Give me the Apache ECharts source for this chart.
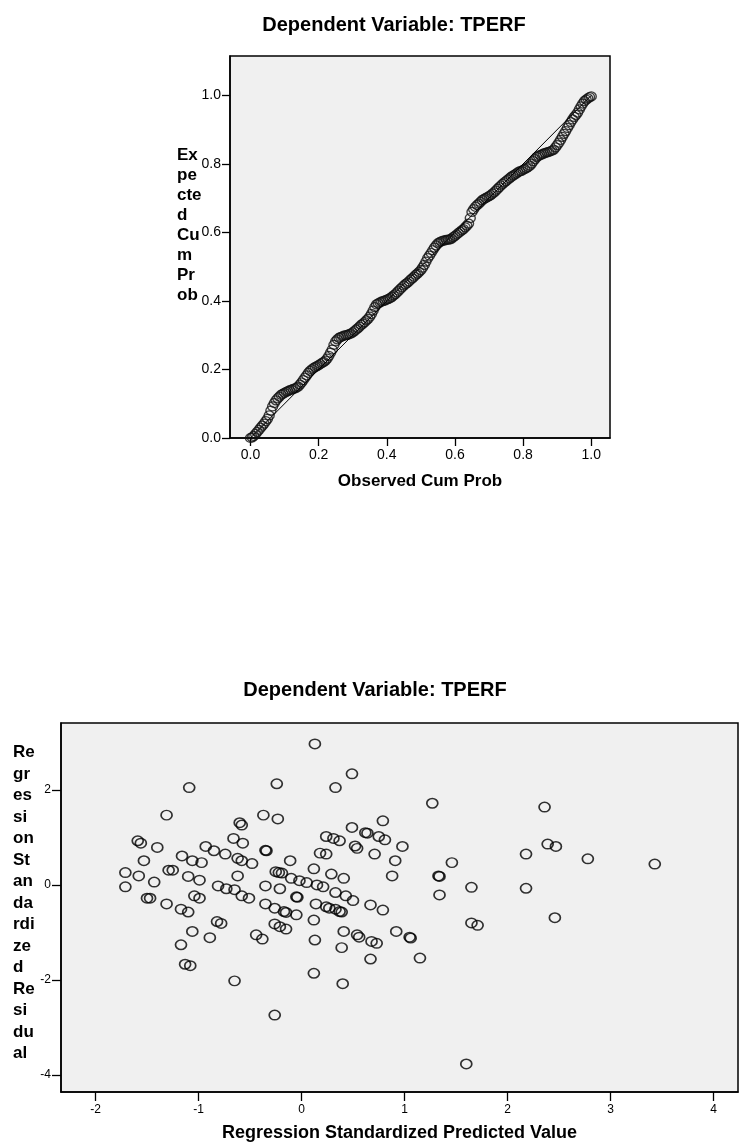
<!DOCTYPE html>
<html>
<head>
<meta charset="utf-8">
<script src="https://cdn.jsdelivr.net/npm/echarts@6.0.0/dist/echarts.min.js"></script>
<style>html,body{margin:0;padding:0;background:#fff}#c{width:739px;height:1144px}</style>
</head>
<body>
<div id="c"></div>
<script>
// ---- P-P plot data ----
const ppObserved = [0.00,0.01,0.02,0.03,0.04,0.05,0.06,0.07,0.08,0.09,0.10,0.11,0.12,0.13,0.14,0.15,0.16,0.17,0.18,0.19,0.20,0.21,0.22,0.23,0.24,0.25,0.26,0.27,0.28,0.29,0.30,0.31,0.32,0.33,0.34,0.35,0.36,0.37,0.38,0.39,0.40,0.41,0.42,0.43,0.44,0.45,0.46,0.47,0.48,0.49,0.50,0.51,0.52,0.53,0.54,0.55,0.56,0.57,0.58,0.59,0.60,0.61,0.62,0.63,0.64,0.65,0.66,0.67,0.68,0.69,0.70,0.71,0.72,0.73,0.74,0.75,0.76,0.77,0.78,0.79,0.80,0.81,0.82,0.83,0.84,0.85,0.86,0.87,0.88,0.89,0.90,0.91,0.92,0.93,0.94,0.95,0.96,0.97,0.98,0.99,1.00];
const ppExpected = [0.000,0.006,0.018,0.030,0.042,0.056,0.080,0.102,0.116,0.126,0.132,0.137,0.141,0.145,0.150,0.162,0.176,0.190,0.200,0.207,0.213,0.219,0.226,0.240,0.258,0.282,0.292,0.297,0.300,0.303,0.308,0.316,0.325,0.334,0.343,0.354,0.372,0.390,0.396,0.400,0.404,0.408,0.416,0.425,0.435,0.445,0.453,0.462,0.471,0.480,0.490,0.505,0.525,0.540,0.556,0.568,0.574,0.577,0.579,0.582,0.590,0.598,0.606,0.615,0.626,0.660,0.675,0.684,0.694,0.700,0.706,0.713,0.722,0.732,0.742,0.750,0.758,0.766,0.772,0.778,0.783,0.788,0.795,0.808,0.820,0.826,0.830,0.834,0.837,0.842,0.855,0.870,0.888,0.905,0.922,0.937,0.950,0.968,0.983,0.991,0.997];
const ppObservedB = [0.005,0.015,0.025,0.035,0.045,0.055,0.065,0.075,0.085,0.095,0.105,0.115,0.125,0.135,0.145,0.155,0.165,0.175,0.185,0.195,0.205,0.215,0.225,0.235,0.245,0.255,0.265,0.275,0.285,0.295,0.305,0.315,0.325,0.335,0.345,0.355,0.365,0.375,0.385,0.395,0.405,0.415,0.425,0.435,0.445,0.455,0.465,0.475,0.485,0.495,0.505,0.515,0.525,0.535,0.545,0.555,0.565,0.575,0.585,0.595,0.605,0.615,0.625,0.635,0.645,0.655,0.665,0.675,0.685,0.695,0.705,0.715,0.725,0.735,0.745,0.755,0.765,0.775,0.785,0.795,0.805,0.815,0.825,0.835,0.845,0.855,0.865,0.875,0.885,0.895,0.905,0.915,0.925,0.935,0.945,0.955,0.965,0.975,0.985,0.995];
const ppExpectedB = [0.002,0.012,0.024,0.036,0.049,0.066,0.092,0.110,0.121,0.129,0.135,0.139,0.143,0.147,0.156,0.169,0.183,0.196,0.204,0.210,0.216,0.222,0.232,0.249,0.272,0.288,0.295,0.299,0.301,0.305,0.312,0.320,0.330,0.338,0.348,0.362,0.382,0.393,0.398,0.402,0.406,0.412,0.420,0.430,0.440,0.449,0.457,0.466,0.476,0.485,0.497,0.515,0.532,0.548,0.562,0.571,0.576,0.578,0.580,0.586,0.594,0.602,0.610,0.620,0.642,0.668,0.680,0.689,0.697,0.703,0.709,0.717,0.727,0.737,0.746,0.754,0.762,0.769,0.775,0.780,0.785,0.791,0.801,0.814,0.823,0.828,0.832,0.835,0.839,0.848,0.862,0.879,0.896,0.913,0.930,0.943,0.959,0.976,0.988,0.995];
const ppTicks = [0, 0.2, 0.4, 0.6, 0.8, 1.0];
const refLine = [[0, 0], [1, 1]];

// ---- Residual scatter data ----
const predicted = [-1.09,-1.31,-0.24,-0.37,-0.23,-1.59,-1.56,-1.40,-0.60,-0.58,-0.66,-0.57,-0.93,-0.85,-0.74,-1.16,-1.06,-0.97,-1.53,-0.62,-0.58,-0.48,-0.35,-0.34,-1.71,-1.58,-1.43,-1.29,-1.25,-1.10,-0.99,-0.62,-0.25,-0.22,-0.19,-0.11,-1.71,-0.81,-0.73,-0.65,-0.35,-0.21,
0.13,0.49,0.33,1.27,0.49,0.79,0.62,0.64,0.24,0.31,0.37,0.75,0.81,0.52,0.54,0.71,0.98,0.18,0.24,0.91,1.46,0.12,0.29,0.41,0.88,1.33,1.34,2.18,-0.10,-0.02,0.05,0.15,0.21,1.65,2.18,
2.36,2.39,2.47,2.78,3.43,
-1.50,-1.47,-1.31,-1.17,-1.10,-1.04,-0.99,-0.58,-0.51,-0.82,-0.78,-1.06,-0.89,-1.17,-1.13,-1.08,-0.65,-0.35,-0.26,-0.17,-0.15,-0.05,-0.04,-0.05,-0.26,-0.21,-0.15,-0.44,-0.38,0.12,0.13,0.12,-0.26,
0.33,0.43,0.50,0.14,0.24,0.27,0.33,0.37,0.39,0.41,0.39,0.40,0.54,0.56,0.67,0.79,0.68,0.73,0.67,0.92,1.05,1.06,1.15,1.34,1.65,1.71,2.46,1.60];
const residual = [2.05,1.47,2.13,1.47,1.39,0.93,0.88,0.79,1.31,1.26,0.98,0.88,0.81,0.72,0.65,0.61,0.51,0.47,0.51,0.56,0.51,0.45,0.73,0.72,0.26,0.19,0.06,0.31,0.31,0.18,0.10,0.19,0.28,0.26,0.25,0.51,-0.04,-0.02,-0.08,-0.10,-0.02,-0.08,
2.97,2.34,2.05,1.72,1.21,1.35,1.10,1.09,1.02,0.98,0.93,1.02,0.95,0.82,0.77,0.65,0.81,0.67,0.65,0.51,0.47,0.34,0.23,0.14,0.19,0.19,0.18,0.65,0.14,0.09,0.05,0.00,-0.04,-0.05,-0.07,
1.64,0.86,0.81,0.55,0.44,
-0.28,-0.28,-0.40,-0.51,-0.57,-0.23,-0.28,-0.23,-0.28,-0.77,-0.81,-0.98,-1.11,-1.26,-1.67,-1.70,-2.02,-0.40,-0.49,-0.56,-0.58,-0.25,-0.26,-0.63,-0.82,-0.88,-0.93,-1.05,-1.14,-0.74,-1.16,-1.86,-2.74,
-0.16,-0.23,-0.33,-0.40,-0.46,-0.49,-0.51,-0.56,-0.57,-0.98,-1.32,-2.08,-1.05,-1.10,-0.42,-0.53,-1.19,-1.23,-1.56,-0.98,-1.10,-1.12,-1.54,-0.21,-0.80,-0.85,-0.69,-3.77];
const predTicks = [-2, -1, 0, 1, 2, 3, 4];
const residTicks = [-4, -2, 0, 2];

const FONT = '"Liberation Sans", Arial, sans-serif';
const chart = echarts.init(document.getElementById('c'), null, {renderer: 'canvas'});

const ppData = ppObserved.map((x, i) => [x, ppExpected[i]])
  .concat(ppObservedB.map((x, i) => [x, ppExpectedB[i]]));
const residData = predicted.map((x, i) => [x, residual[i]]);

function axisCommon(ticks, fmt, fs, tickLen, margin) {
  return {
    type: 'value',
    axisLine: {show: true, onZero: false, lineStyle: {color: '#000', width: 1.5}},
    axisTick: {show: true, customValues: ticks, length: tickLen, lineStyle: {color: '#000', width: 1.3}},
    axisLabel: {show: true, customValues: ticks, formatter: fmt, color: '#000', fontSize: fs, fontFamily: FONT, margin: margin},
    splitLine: {show: false}
  };
}

chart.setOption({
  animation: false,
  backgroundColor: '#fff',
  title: [
    {text: 'Dependent Variable: TPERF', left: 389, top: 10, textAlign: 'center',
     textStyle: {fontSize: 20, fontWeight: 'bold', fontFamily: FONT, color: '#000'}},
    {text: 'Dependent Variable: TPERF', left: 370, top: 675, textAlign: 'center',
     textStyle: {fontSize: 20, fontWeight: 'bold', fontFamily: FONT, color: '#000'}}
  ],
  grid: [
    {left: 230, top: 56, width: 380, height: 382, show: true, backgroundColor: '#f0f0f0', borderColor: '#000', borderWidth: 1.5, containLabel: false, outerBoundsMode: 'none'},
    {left: 61, top: 723, width: 677, height: 369, show: true, backgroundColor: '#f0f0f0', borderColor: '#000', borderWidth: 1.5, containLabel: false, outerBoundsMode: 'none'}
  ],
  xAxis: [
    Object.assign(axisCommon(ppTicks, v => v.toFixed(1), 14, 8, 10), {
      gridIndex: 0, min: -0.06, max: 1.055,
      name: 'Observed Cum Prob', nameLocation: 'middle', nameGap: 35,
      nameTextStyle: {fontSize: 17, fontWeight: 'bold', fontFamily: FONT, color: '#000'}
    }),
    Object.assign(axisCommon(predTicks, v => String(v), 12, 9, 12), {
      gridIndex: 1, min: -2.335, max: 4.238,
      name: 'Regression Standardized Predicted Value', nameLocation: 'middle', nameGap: 32,
      nameTextStyle: {fontSize: 18, fontWeight: 'bold', fontFamily: FONT, color: '#000'}
    })
  ],
  yAxis: [
    Object.assign(axisCommon(ppTicks, v => v.toFixed(1), 14, 8, 9), {gridIndex: 0, min: 0, max: 1.115}),
    Object.assign(axisCommon(residTicks, v => String(v), 12, 9, 10), {gridIndex: 1, min: -4.36, max: 3.41})
  ],
  graphic: [
    {type: 'text', left: 177, top: 145, style: {text: 'Ex\npe\ncte\nd\nCu\nm\nPr\nob', font: 'bold 17px ' + FONT, lineHeight: 20, fill: '#000'}},
    {type: 'text', left: 13, top: 742, style: {text: 'Re\ngr\nes\nsi\non\nSt\nan\nda\nrdi\nze\nd\nRe\nsi\ndu\nal', font: 'bold 17px ' + FONT, lineHeight: 21.5, fill: '#000'}}
  ],
  series: [
    {type: 'line', xAxisIndex: 0, yAxisIndex: 0, data: refLine, symbol: 'none',
     lineStyle: {color: '#000', width: 1}, silent: true},
    {type: 'scatter', xAxisIndex: 0, yAxisIndex: 0, data: ppData, symbol: 'circle', symbolSize: [10, 9],
     itemStyle: {color: 'rgba(0,0,0,0)', borderColor: '#111', borderWidth: 1.3}},
    {type: 'scatter', xAxisIndex: 1, yAxisIndex: 1, data: residData, symbol: 'circle', symbolSize: [11, 9.5],
     itemStyle: {color: 'rgba(0,0,0,0)', borderColor: '#000', borderWidth: 1.6}}
  ]
});
</script>
</body>
</html>
